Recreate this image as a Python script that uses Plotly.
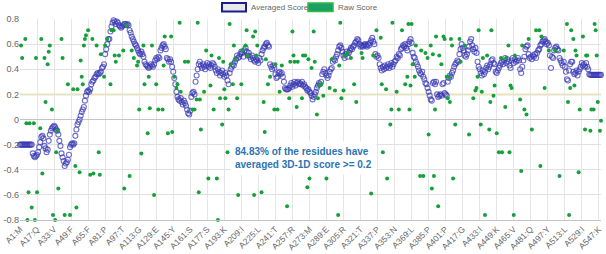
import plotly.graph_objects as go

# ---------------- data ----------------
tick_labels = ["A1:M", "A17:Q", "A33:V", "A49:F", "A65:F", "A81:P", "A97:T", "A113:G",
               "A129:E", "A145:Y", "A161:S", "A177:S", "A193:K", "A209:I", "A225:L",
               "A241:T", "A257:R", "A273:M", "A289:E", "A305:R", "A321:T", "A337:P",
               "A353:N", "A369:L", "A385:P", "A401:P", "A417:G", "A433:I", "A449:K",
               "A465:V", "A481:Q", "A497:Y", "A513:L", "A529:I", "A547:K"]
tick_step = 16

averaged_score = [
    -0.20, -0.20, -0.20, -0.20, -0.20, -0.20, -0.20, -0.20, -0.20, -0.20,
    -0.20, -0.20, -0.27, -0.29, -0.30, -0.29, -0.28, -0.26, -0.22, -0.18,
    -0.14, -0.13, -0.15, -0.21, -0.23, -0.26, -0.24, -0.17, -0.12, -0.09,
    -0.07, -0.06, -0.05, -0.06, -0.08, -0.09, -0.12, -0.17, -0.21, -0.27,
    -0.30, -0.33, -0.37, -0.35, -0.34, -0.32, -0.28, -0.22, -0.20, -0.19,
    -0.20, -0.19, -0.13, -0.08, -0.04, -0.02, 0.00, 0.03, 0.06, 0.08,
    0.10, 0.15, 0.19, 0.22, 0.23, 0.22, 0.24, 0.28, 0.30, 0.31,
    0.33, 0.34, 0.36, 0.37, 0.36, 0.37, 0.38, 0.41, 0.42, 0.44,
    0.52, 0.56, 0.60, 0.64, 0.64, 0.70, 0.74, 0.77, 0.79, 0.78,
    0.76, 0.78, 0.77, 0.75, 0.74, 0.73, 0.74, 0.75, 0.76, 0.76,
    0.75, 0.76, 0.75, 0.71, 0.69, 0.66, 0.64, 0.62, 0.60, 0.59,
    0.57, 0.55, 0.53, 0.52, 0.54, 0.52, 0.50, 0.46, 0.44, 0.43,
    0.42, 0.41, 0.42, 0.44, 0.43, 0.42, 0.44, 0.47, 0.49, 0.48,
    0.50, 0.49, 0.55, 0.57, 0.59, 0.60, 0.58, 0.56, 0.49, 0.48,
    0.46, 0.48, 0.46, 0.42, 0.38, 0.33, 0.28, 0.22, 0.18, 0.16,
    0.15, 0.17, 0.14, 0.12, 0.15, 0.13, 0.11, 0.08, 0.05, 0.04,
    0.07, 0.18, 0.21, 0.22, 0.20, 0.30, 0.35, 0.40, 0.44, 0.46,
    0.43, 0.41, 0.44, 0.42, 0.40, 0.43, 0.45, 0.42, 0.44, 0.41,
    0.43, 0.45, 0.44, 0.42, 0.39, 0.37, 0.40, 0.38, 0.35, 0.37,
    0.39, 0.36, 0.34, 0.37, 0.35, 0.31, 0.28, 0.37, 0.40, 0.42,
    0.44, 0.43, 0.46, 0.48, 0.51, 0.49, 0.50, 0.52, 0.54, 0.53,
    0.50, 0.55, 0.57, 0.54, 0.51, 0.53, 0.50, 0.48, 0.51, 0.49,
    0.47, 0.46, 0.48, 0.47, 0.45, 0.49, 0.47, 0.52, 0.55, 0.57,
    0.58, 0.60, 0.61, 0.59, 0.58, 0.44, 0.42, 0.40, 0.43, 0.41,
    0.36, 0.33, 0.34, 0.37, 0.38, 0.36, 0.37, 0.34, 0.30,
    0.25, 0.24, 0.24, 0.24, 0.25, 0.27, 0.29, 0.26, 0.28, 0.30,
    0.27, 0.29, 0.30, 0.28, 0.29, 0.28, 0.30, 0.27, 0.28, 0.26,
    0.25, 0.23, 0.24, 0.22, 0.21, 0.19, 0.16, 0.18, 0.20, 0.22,
    0.25, 0.27, 0.29, 0.28, 0.30, 0.36, 0.38, 0.40, 0.37, 0.35,
    0.33, 0.35, 0.38, 0.40, 0.41, 0.46, 0.48, 0.47, 0.50, 0.52,
    0.55, 0.58, 0.59, 0.57, 0.54, 0.51, 0.49, 0.52, 0.54, 0.50,
    0.53, 0.55, 0.57, 0.56, 0.58, 0.59, 0.61, 0.62, 0.64, 0.63,
    0.60, 0.58, 0.59, 0.58, 0.59, 0.60, 0.59, 0.58, 0.60, 0.59,
    0.61, 0.63, 0.65, 0.62, 0.60, 0.52, 0.50, 0.51, 0.49, 0.44,
    0.41, 0.39, 0.42, 0.40, 0.43, 0.41, 0.42, 0.44, 0.41, 0.43,
    0.45, 0.42, 0.44, 0.46, 0.47, 0.50, 0.49, 0.52, 0.51, 0.56,
    0.57, 0.59, 0.58, 0.60, 0.57, 0.55, 0.60, 0.62, 0.64, 0.61,
    0.53, 0.50, 0.49, 0.46, 0.44, 0.42, 0.39, 0.37, 0.36, 0.38,
    0.34, 0.32, 0.29, 0.28, 0.25, 0.22, 0.19, 0.16, 0.15, 0.29,
    0.30, 0.28, 0.30, 0.20, 0.18, 0.19, 0.20, 0.19, 0.28, 0.29,
    0.21, 0.20, 0.19, 0.30, 0.33, 0.35, 0.34, 0.37, 0.39, 0.42,
    0.44, 0.45, 0.47, 0.46, 0.52, 0.56, 0.60, 0.57, 0.55, 0.51,
    0.50, 0.52, 0.55, 0.58, 0.62, 0.64, 0.59, 0.56, 0.54, 0.57,
    0.53, 0.46, 0.42, 0.40, 0.37, 0.35, 0.39, 0.36, 0.38, 0.41,
    0.43, 0.40, 0.42, 0.44, 0.47, 0.48, 0.45, 0.44, 0.38, 0.37,
    0.39, 0.41, 0.43, 0.45, 0.46, 0.44, 0.47, 0.49, 0.45, 0.48,
    0.46, 0.43, 0.41, 0.47, 0.49, 0.45, 0.48, 0.46, 0.47, 0.49,
    0.47, 0.40, 0.37, 0.42, 0.47, 0.50, 0.56, 0.58, 0.59,
    0.52, 0.49, 0.50, 0.48, 0.51, 0.50, 0.52, 0.49, 0.53, 0.55,
    0.56, 0.59, 0.60, 0.62, 0.63, 0.64, 0.62, 0.60, 0.61, 0.59,
    0.51, 0.41, 0.50, 0.49, 0.55, 0.57, 0.58, 0.56, 0.55, 0.49,
    0.47, 0.45, 0.43, 0.46, 0.42, 0.38, 0.32, 0.31, 0.39, 0.44,
    0.46, 0.46, 0.38, 0.36, 0.37, 0.39, 0.35, 0.38, 0.40, 0.42,
    0.45, 0.43, 0.44, 0.42, 0.45, 0.42, 0.40, 0.36,
    0.355, 0.355, 0.355, 0.355, 0.355, 0.355, 0.355, 0.355, 0.355, 0.355, 0.355,
]

raw_index = [
    1, 2, 5, 6, 7, 8, 9, 11, 13, 14, 15, 16, 19, 20, 21, 23, 24, 26, 27, 28,
    30, 31, 33, 34, 35, 36, 39, 40, 42, 45, 47, 50, 52, 53, 54, 56, 57, 58, 59, 60,
    61, 62, 64, 66, 68, 69, 72, 74, 75, 76, 79, 80, 82, 85, 86, 88, 89,
    90, 93, 97, 98, 100, 103, 105, 107, 110, 111, 112, 114, 116, 117, 120,
    121, 122, 124, 126, 128, 130, 134, 135, 136, 139, 142, 143, 145, 147, 148,
    150, 151, 155, 158, 162, 164, 166, 167, 168, 169, 170, 173, 175, 177, 179, 180,
    182, 185, 186, 187, 188, 190, 191, 192, 193, 195, 196, 197, 198, 200, 201, 202,
    204, 205, 208, 209, 212, 213, 214, 219, 220, 221, 222, 223, 227, 229, 230, 231,
    233, 235, 239, 240, 242, 244, 246, 251, 253, 254, 256, 257, 258, 260, 261,
    265, 266, 268, 270, 271, 272,
    274, 276, 277, 279, 280, 281, 283, 285, 288, 291, 293, 296, 299, 300, 301, 302,
    304, 305, 308, 311, 314, 316, 321, 322, 330, 332, 335, 339, 340, 341, 344, 345,
    348, 349, 350, 354, 356, 359, 362, 364, 365, 366,
    367, 368, 369, 371, 372, 376, 377, 379, 381, 383, 384, 386, 387, 388, 389, 390,
    391, 393, 394, 396, 398, 399, 401, 402, 403, 404, 405, 406, 407, 409, 413, 414,
    418, 422, 426, 428, 429, 430, 431, 433, 434, 435, 437, 439, 441, 442, 443, 445,
    446, 448, 450, 452, 453, 456, 457,
    459, 460, 461, 462, 464, 465, 470, 471, 472, 474, 476, 478, 481, 485, 488, 489,
    490, 493, 497, 503, 507, 511, 514, 515, 516, 517, 518, 520, 521, 522, 523, 525,
    526, 529, 531, 532, 533, 536, 537, 539, 540, 541, 542, 543, 545, 546,
]
raw_value = [
    0.59, 0.49, 0.64, -0.03, -0.80, -0.58, -0.03, -0.70, -0.03, -0.80, 0.49, -0.58, -0.07, 0.64, -0.43, 0.49, 0.14, 0.44, 0.54, 0.59,
    0.08, -0.76, -0.80, -0.26, -0.09, -0.55, 0.64, 0.49, -0.76, 0.28, -0.76, 0.24, -0.37, -0.70, 0.24, -0.42, 0.47, 0.34, 0.28, 0.59,
    0.64, 0.67, 0.71, -0.44, 0.64, -0.43, 0.59, -0.26, -0.44, 0.52, 0.34, 0.59, 0.64, 0.28, 0.71, 0.71, 0.51,
    0.46, 0.51, 0.55, -0.55, 0.75, -0.45, 0.55, 0.49, 0.43, 0.46, 0.08, -0.27, 0.59, 0.28, -0.11,
    0.34, 0.09, 0.59, -0.60, 0.28, 0.08, 0.08, 0.43, 0.66, -0.11, 0.66, -0.10, 0.34, 0.25, 0.28,
    0.77, 0.22, 0.46, 0.46, 0.08, 0.08, 0.16, 0.77, -0.58, 0.16, -0.08, 0.22, 0.55, -0.47, 0.27, 0.51,
    0.08, -0.47, -0.80, 0.49, 0.17, -0.04, 0.46, 0.24, 0.17, -0.26, 0.08, 0.76, 0.44, 0.28, 0.59, 0.48,
    0.17, -0.60, 0.28, 0.55, 0.59, 0.71, 0.51, 0.66, -0.60, 0.70, 0.51, 0.59, -0.58, 0.14, -0.10, 0.48,
    0.28, 0.34, 0.08, 0.44, 0.08, 0.22, 0.43, -0.69, 0.17, 0.46, 0.70, 0.51, 0.46, 0.10, 0.46,
    0.17, 0.51, 0.51, -0.54, 0.48, -0.47,
    0.41, 0.70, 0.46, 0.04, 0.17, 0.27, 0.28, 0.19, -0.47, 0.25, 0.48, 0.23, -0.76, 0.43, 0.77, 0.17,
    0.23, 0.51, 0.53, 0.49, 0.28, 0.14, 0.53, 0.49, -0.59, 0.51, 0.71, 0.65, 0.28, -0.26, 0.24, -0.47,
    -0.04, 0.08, 0.77, 0.22, 0.08, 0.71, 0.28, 0.34, 0.76, 0.08,
    0.27, 0.76, 0.44, 0.34, 0.59, -0.45, 0.55, -0.45, 0.53, 0.49, -0.12, 0.59, -0.55, 0.52, -0.45, 0.08,
    0.66, -0.69, 0.51, 0.44, 0.66, 0.64, 0.34, 0.17, 0.34, 0.14, 0.64, 0.59, -0.47, -0.04, 0.64, 0.46,
    0.59, -0.12, 0.17, 0.23, 0.25, 0.34, 0.71, -0.04, 0.22, 0.49, -0.76, 0.51, -0.08, 0.14, 0.71, 0.19,
    0.27, -0.11, -0.26, 0.49, -0.26, 0.10, 0.49,
    0.59, -0.26, 0.27, 0.25, -0.76, 0.51, 0.16, -0.41, 0.59, 0.08, 0.04, 0.64, -0.08, 0.71, 0.71, -0.37,
    0.66, 0.25, 0.55, 0.55, -0.45, 0.55, 0.76, 0.14, -0.76, 0.25, 0.71, 0.64, 0.27, 0.55, 0.51, -0.42,
    0.08, 0.66, -0.08, 0.51, 0.51, -0.09, 0.08, 0.08, 0.76, 0.71, 0.51, 0.14, -0.09, -0.01,
]

threshold = 0.2
note_lines = ["84.83% of the residues have", "averaged 3D-1D score >= 0.2"]
y_ticks = [0.8, 0.6, 0.4, 0.2, 0, -0.2, -0.4, -0.6, -0.8]
y_tick_text = ["0.8", "0.6", "0.4", "0.2", "0", "-0.2", "-0.4", "-0.6", "-0.8"]

# ---------------- figure ----------------
n = len(averaged_score)
avg_x = list(range(n))
tick_pos = [i * tick_step for i in range(len(tick_labels))]

FONT = "Liberation Sans, Arial, sans-serif"
GRAY = "#666666"

fig = go.Figure()
fig.add_trace(go.Scatter(
    x=avg_x, y=averaged_score, mode="markers", name="Averaged Score",
    cliponaxis=False, showlegend=False, hoverinfo="skip",
    marker=dict(symbol="circle-open", size=5, color="rgba(55,55,180,0.72)",
                line=dict(width=1.1)),
))
fig.add_trace(go.Scatter(
    x=raw_index, y=raw_value, mode="markers", name="Raw Score",
    cliponaxis=False, showlegend=False, hoverinfo="skip",
    marker=dict(symbol="circle", size=4, color="#17a03a"),
))

fig.add_shape(type="line", xref="paper", x0=0, x1=1, yref="y", y0=threshold, y1=threshold,
              line=dict(color="#EDE59A", width=2), layer="below")

# manual legend (rectangular swatches)
W, H, L, T = 606, 254, 20, 19
PW, PH = W - L - 5, 220 - T
def px(xp):
    return (xp - L) / PW
def py(yp):
    return (220 - yp) / PH

fig.add_shape(type="rect", xref="paper", yref="paper",
              x0=px(222), x1=px(246), y0=py(11.5), y1=py(3),
              line=dict(color="#1c1c8c", width=2), fillcolor="#e8e8e8")
fig.add_shape(type="rect", xref="paper", yref="paper",
              x0=px(308), x1=px(333), y0=py(11.5), y1=py(3),
              line=dict(color="#2dbb4a", width=1.5), fillcolor="#1d9e62")
fig.add_annotation(xref="paper", yref="paper", x=px(249), y=py(7.3), xanchor="left",
                   yanchor="middle", text="Averaged Score", showarrow=False,
                   font=dict(family=FONT, size=8, color=GRAY))
fig.add_annotation(xref="paper", yref="paper", x=px(336), y=py(7.3), xanchor="left",
                   yanchor="middle", text="Raw Score", showarrow=False,
                   font=dict(family=FONT, size=8, color=GRAY))

fig.add_annotation(xref="paper", yref="paper", x=px(303), y=py(158), xanchor="center",
                   yanchor="middle", text="<br>".join(note_lines), showarrow=False,
                   align="left", bgcolor="white", borderpad=4,
                   font=dict(family=FONT, size=10, color="#2b74b4", weight="bold"))

fig.update_layout(
    width=W, height=H,
    margin=dict(l=L, r=5, t=T, b=H - 220, autoexpand=False),
    plot_bgcolor="white", paper_bgcolor="white",
    showlegend=False, hovermode=False,
    font=dict(family=FONT, size=9, color=GRAY),
    xaxis=dict(range=[0, n - 1], tickmode="array", tickvals=tick_pos, ticktext=tick_labels,
               tickangle=-45, showgrid=True, gridcolor="#e6e6e6", gridwidth=1,
               zeroline=False, showline=True, linecolor="#c4c4c4", linewidth=1,
               ticks="", tickfont=dict(family=FONT, size=8.5, color=GRAY), automargin=False),
    yaxis=dict(range=[-0.8, 0.8], tickmode="array", tickvals=y_ticks, ticktext=y_tick_text,
               showgrid=True, gridcolor="#e0e0e0", gridwidth=1,
               zeroline=True, zerolinecolor="#c4c4c4", zerolinewidth=1,
               ticks="", tickfont=dict(family=FONT, size=9, color=GRAY), automargin=False),
)

fig.write_html("out.html", config={"displayModeBar": False, "staticPlot": True},
               post_script="document.body.style.margin='0';document.body.style.overflow='hidden';")
